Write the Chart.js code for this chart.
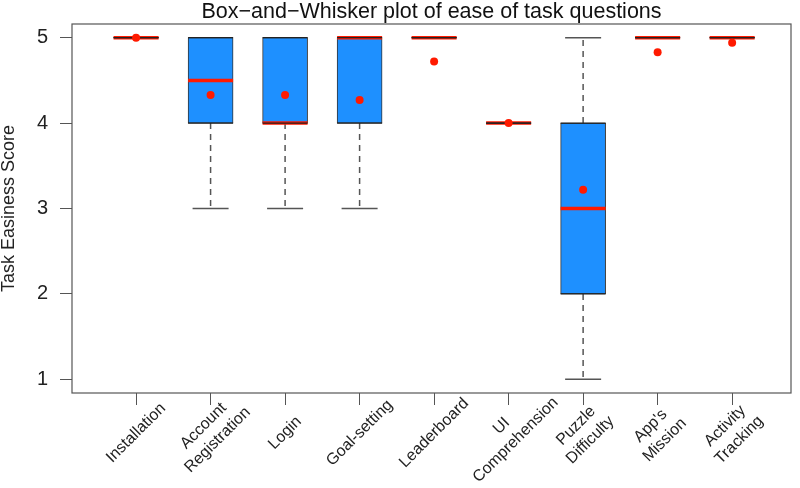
<!DOCTYPE html>
<html>
<head>
<meta charset="utf-8">
<script src="https://cdn.jsdelivr.net/npm/chart.js@4"></script>
<style>
  html, body { margin: 0; padding: 0; background: #fff; overflow: hidden; }
  #wrap { position: absolute; left: 0; top: 0; width: 800px; height: 488px; }
</style>
</head>
<body>
<div id="wrap"><canvas id="grafico-box"></canvas></div>
<script>
const tarefas = [
  "Installation",
  "Account\nRegistration",
  "Login",
  "Goal-setting",
  "Leaderboard",
  "UI\nComprehension",
  "Puzzle\nDifficulty",
  "App's\nMission",
  "Activity\nTracking",
];
const minimos = [5, 3, 3, 3, 5, 4, 1, 5, 5];
const quartil1 = [5, 4, 4, 4, 5, 4, 2, 5, 5];
const medianas = [5, 4.5, 4, 5, 5, 4, 3, 5, 5];
const quartil3 = [5, 5, 5, 5, 5, 4, 4, 5, 5];
const maximos = [5, 5, 5, 5, 5, 4, 5, 5, 5];
const medias = [5, 4.33, 4.33, 4.27, 4.72, 4, 3.22, 4.83, 4.94];
const yTicks = [1, 2, 3, 4, 5];

const pos = tarefas.map((t, i) => i + 1);

// whiskers: q3 -> max and q1 -> min, broken with nulls
const bigodes = [];
pos.forEach((x, i) => {
  bigodes.push({ x: x, y: quartil3[i] }, { x: x, y: maximos[i] }, { x: x, y: null });
  bigodes.push({ x: x, y: quartil1[i] }, { x: x, y: minimos[i] }, { x: x, y: null });
});

const rotulosX = {
  id: "rotulosX",
  afterDraw(chart) {
    const ctx = chart.ctx;
    const xs = chart.scales.x;
    ctx.save();
    ctx.font = "16px 'Liberation Sans', Arial, sans-serif";
    ctx.fillStyle = "#222";
    ctx.textAlign = "center";
    ctx.textBaseline = "middle";
    tarefas.forEach((t, i) => {
      const linhas = t.split("\n");
      ctx.save();
      ctx.translate(xs.getPixelForValue(pos[i]), 433);
      ctx.rotate(-Math.PI / 4);
      linhas.forEach((l, j) => {
        ctx.fillText(l, 0, (j - (linhas.length - 1) / 2) * 20);
      });
      ctx.restore();
    });
    // frame around plot region
    const a = chart.chartArea;
    ctx.strokeStyle = "#555";
    ctx.lineWidth = 1.2;
    ctx.strokeRect(a.left, a.top, a.right - a.left, a.bottom - a.top);
    ctx.restore();
  },
};

new Chart(document.getElementById("grafico-box"), {
  type: "bar",
  data: {
    datasets: [
      {
        type: "scatter",
        label: "Média",
        data: pos.map((x, i) => ({ x: x, y: medias[i] })),
        pointRadius: 4,
        pointBackgroundColor: "#ff1a00",
        pointBorderWidth: 0,
        order: 0,
      },
      {
        type: "scatter",
        label: "Borda",
        data: pos
          .map((x, i) => ({ x: x, y: quartil1[i] }))
          .concat(pos.map((x, i) => ({ x: x, y: quartil3[i] }))),
        pointStyle: "line",
        pointRadius: 22.5,
        pointBorderColor: "#222",
        pointBorderWidth: 1.3,
        order: 1,
      },
      {
        type: "scatter",
        label: "Mediana",
        data: pos.map((x, i) => ({ x: x, y: medianas[i] })),
        pointStyle: "line",
        pointRadius: 22.5,
        pointBorderColor: "#ff1a00",
        pointBorderWidth: 3.5,
        order: 2,
      },
      {
        label: "Caixa",
        data: pos.map((x, i) => ({ x: x, y: [quartil1[i], quartil3[i]] })),
        backgroundColor: "#1e90ff",
        borderColor: "#333",
        borderWidth: 1,
        borderSkipped: false,
        barThickness: 45,
        order: 3,
      },
      {
        type: "scatter",
        label: "Limites",
        data: pos
          .map((x, i) => ({ x: x, y: minimos[i] }))
          .concat(pos.map((x, i) => ({ x: x, y: maximos[i] }))),
        pointStyle: "line",
        pointRadius: 18,
        pointBorderColor: "#555",
        pointBorderWidth: 1.5,
        order: 4,
      },
      {
        type: "line",
        label: "Bigodes",
        data: bigodes,
        borderColor: "#555",
        borderWidth: 1.5,
        borderDash: [6, 5],
        pointRadius: 0,
        spanGaps: false,
        order: 5,
      },
    ],
  },
  options: {
    animation: false,
    responsive: true,
    maintainAspectRatio: false,
    events: [],
    layout: {
      autoPadding: false,
      padding: { right: 9 },
    },
    plugins: {
      legend: { display: false },
      tooltip: { enabled: false },
      title: {
        display: true,
        text: "Box\u2212and\u2212Whisker plot of ease of task questions",
        fullSize: false,
        color: "#111",
        font: { family: "'Liberation Sans', Arial, sans-serif", size: 21.5, weight: "normal", lineHeight: 1 },
        padding: { top: 0, bottom: 1.5 },
      },
    },
    scales: {
      x: {
        type: "linear",
        min: 0.14,
        max: 9.79,
        offset: false,
        afterBuildTicks: (s) => {
          s.ticks = pos.map((v) => ({ value: v }));
        },
        afterFit: (s) => {
          s.height = 95;
        },
        grid: {
          offset: false,
          drawOnChartArea: false,
          drawTicks: true,
          tickLength: 12,
          color: "#555",
        },
        border: { display: false },
        ticks: { display: false },
      },
      y: {
        min: 0.84,
        max: 5.16,
        afterBuildTicks: (s) => {
          s.ticks = yTicks.map((v) => ({ value: v }));
        },
        afterFit: (s) => {
          s.width = 72;
        },
        grid: {
          drawOnChartArea: false,
          drawTicks: true,
          tickLength: 12,
          color: "#555",
        },
        border: { display: false },
        ticks: {
          padding: 12,
          color: "#222",
          font: { family: "'Liberation Sans', Arial, sans-serif", size: 20 },
        },
        title: {
          display: true,
          text: "Task Easiness Score",
          color: "#222",
          font: { family: "'Liberation Sans', Arial, sans-serif", size: 18, lineHeight: 1 },
          padding: 0,
        },
      },
    },
  },
  plugins: [rotulosX],
});
</script>
</body>
</html>
